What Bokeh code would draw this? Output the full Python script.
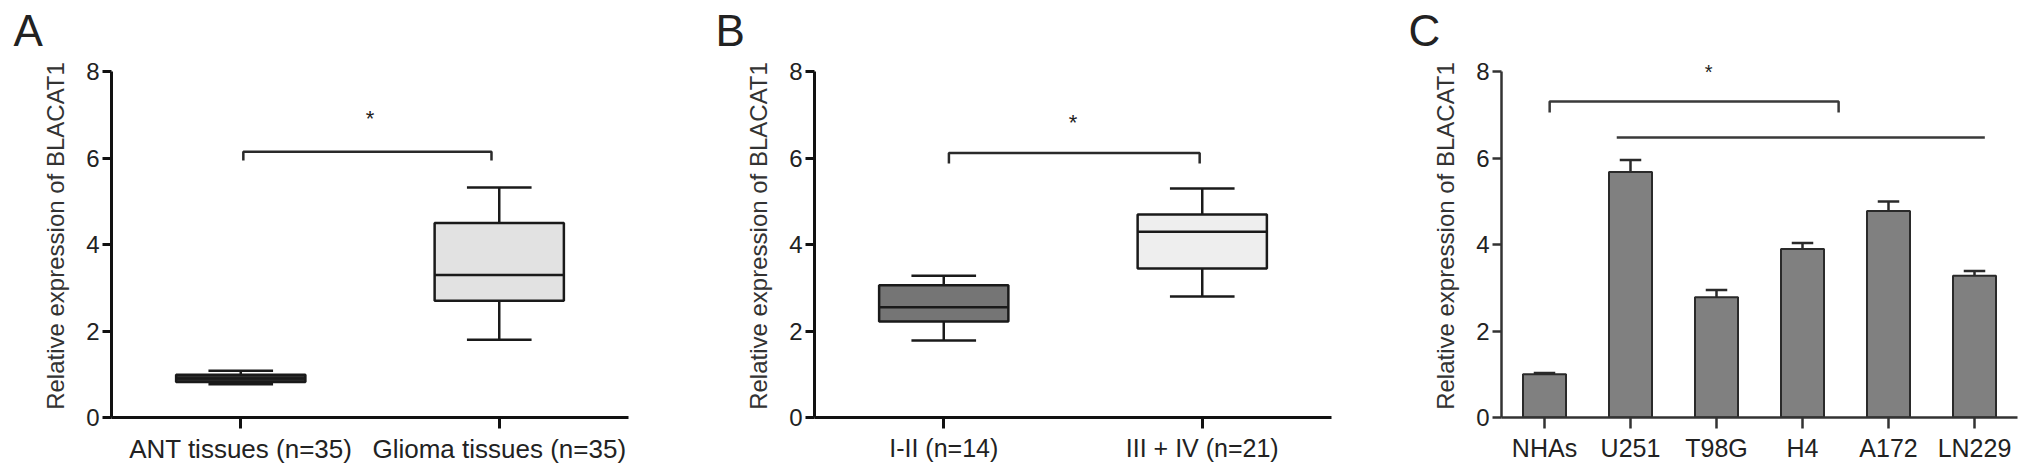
from bokeh.plotting import figure
from bokeh.layouts import row
from bokeh.models import Range1d, FixedTicker
from bokeh.core.properties import value
from bokeh.embed import file_html
from bokeh.resources import INLINE

FONT = "Liberation Sans"
YLABEL = "Relative expression of BLACAT1"

# ---- Panel A data (box plots) ----
a_groups = ["ANT tissues (n=35)", "Glioma tissues (n=35)"]
a_min = [0.77, 1.80]
a_q1 = [0.82, 2.70]
a_med = [0.90, 3.30]
a_q3 = [0.99, 4.50]
a_max = [1.08, 5.32]

# ---- Panel B data (box plots) ----
b_groups = ["I-II (n=14)", "III + IV (n=21)"]
b_min = [1.78, 2.80]
b_q1 = [2.22, 3.45]
b_med = [2.55, 4.30]
b_q3 = [3.06, 4.70]
b_max = [3.28, 5.30]

# ---- Panel C data (bars with SEM) ----
c_cells = ["NHAs", "U251", "T98G", "H4", "A172", "LN229"]
c_vals = [1.00, 5.68, 2.78, 3.90, 4.78, 3.28]
c_err = [0.03, 0.28, 0.17, 0.14, 0.22, 0.11]

# ---- significance annotations (data coords) ----
a_bracket = dict(x0=0.51, x1=1.47, y=6.15, drop=5.95, star_x=1.0, star_y=7.06)
b_bracket = dict(x0=0.52, x1=1.49, y=6.12, drop=5.88, star_x=1.0, star_y=6.96)
c_bracket = dict(x0=0.56, x1=3.92, y=7.31, drop=7.06)
c_line = dict(x0=1.34, x1=5.62, y=6.48)
c_star = dict(x=2.41, y=8.13)

H = 474
TOP = 54
BOTTOM = 57
YMAX = 8.4


def base_fig(width, left, right, n, labels, axis_color, axis_w, xfont, letter, letter_off):
    p = figure(width=width, height=H, x_range=Range1d(0, n), y_range=Range1d(0, YMAX),
               output_backend="svg", toolbar_location=None,
               min_border_left=left, min_border_right=right,
               min_border_top=TOP, min_border_bottom=BOTTOM)
    p.xgrid.visible = False
    p.ygrid.visible = False
    p.outline_line_color = None
    p.background_fill_color = "white"
    p.border_fill_color = "white"
    p.title.text = letter
    p.title.text_font = FONT
    p.title.text_font_size = "44px"
    p.title.text_font_style = "normal"
    p.title.text_color = "#222222"
    p.title.align = "left"
    p.title.offset = letter_off
    p.title.standoff = 0
    pos = [i + 0.5 for i in range(n)]
    xa = p.xaxis[0]
    xa.ticker = FixedTicker(ticks=pos)
    xa.major_label_overrides = {pp: lab for pp, lab in zip(pos, labels)}
    xa.minor_tick_line_color = None
    xa.major_tick_in = 0
    xa.major_tick_out = 11
    xa.major_tick_line_width = axis_w
    xa.major_tick_line_color = axis_color
    xa.axis_line_width = axis_w
    xa.axis_line_color = axis_color
    xa.major_label_text_font = FONT
    xa.major_label_text_font_size = xfont
    xa.major_label_text_color = "#222222"
    xa.major_label_standoff = 5
    ya = p.yaxis[0]
    ya.ticker = FixedTicker(ticks=[0, 2, 4, 6, 8])
    ya.bounds = (0, 8)
    ya.minor_tick_line_color = None
    ya.major_tick_in = 0
    ya.major_tick_out = 9
    ya.major_tick_line_width = axis_w
    ya.major_tick_line_color = axis_color
    ya.axis_line_width = axis_w
    ya.axis_line_color = axis_color
    ya.major_label_text_font = FONT
    ya.major_label_text_font_size = "24px"
    ya.major_label_text_color = "#222222"
    ya.major_label_standoff = 3
    ya.axis_label = YLABEL
    ya.axis_label_text_font = FONT
    ya.axis_label_text_font_size = "24px"
    ya.axis_label_text_font_style = "normal"
    ya.axis_label_text_color = "#333333"
    ya.axis_label_standoff = 14
    return p, pos


def boxes(p, pos, mn, q1, med, q3, mx, fills):
    lc = "#1a1a1a"
    p.segment(x0=pos, x1=pos, y0=q3, y1=mx, line_color=lc, line_width=2.5)
    p.segment(x0=pos, x1=pos, y0=mn, y1=q1, line_color=lc, line_width=2.5)
    p.segment(x0=[x - 0.125 for x in pos], x1=[x + 0.125 for x in pos], y0=mx, y1=mx,
              line_color=lc, line_width=2.5)
    p.segment(x0=[x - 0.125 for x in pos], x1=[x + 0.125 for x in pos], y0=mn, y1=mn,
              line_color=lc, line_width=2.5)
    p.vbar(x=pos, width=0.5, bottom=q1, top=q3, fill_color=fills, line_color=lc, line_width=2.5)
    p.segment(x0=[x - 0.25 for x in pos], x1=[x + 0.25 for x in pos], y0=med, y1=med,
              line_color=lc, line_width=2.5)


def bracket(p, b, color, lw):
    p.line(x=[b["x0"], b["x0"], b["x1"], b["x1"]], y=[b["drop"], b["y"], b["y"], b["drop"]],
           line_color=color, line_width=lw)


def star(p, x, y, size):
    p.text(x=[x], y=[y], text=["*"], text_font=value(FONT), text_font_size=size,
           text_align="center", text_baseline="middle", y_offset=6, text_color="#222222")


# Panel A
pA, posA = base_fig(708, 111, 80, 2, a_groups, "#111111", 3, "26px", "A", -98)
boxes(pA, posA, a_min, a_q1, a_med, a_q3, a_max, ["#2e2e2e", "#e2e2e2"])
bracket(pA, a_bracket, "#2a2a2a", 2.5)
star(pA, a_bracket["star_x"], a_bracket["star_y"], "22px")

# Panel B
pB, posB = base_fig(680, 106, 57, 2, b_groups, "#111111", 3, "25px", "B", -99)
boxes(pB, posB, b_min, b_q1, b_med, b_q3, b_max, ["#757575", "#eeeeee"])
bracket(pB, b_bracket, "#2a2a2a", 2.5)
star(pB, b_bracket["star_x"], b_bracket["star_y"], "22px")

# Panel C
pC, posC = base_fig(643, 113, 14, 6, c_cells, "#333333", 2.5, "25px", "C", -93)
lc = "#2a2a2a"
tops = [v + e for v, e in zip(c_vals, c_err)]
pC.segment(x0=posC, x1=posC, y0=c_vals, y1=tops, line_color=lc, line_width=2.5)
pC.segment(x0=[x - 0.125 for x in posC], x1=[x + 0.125 for x in posC], y0=tops, y1=tops,
           line_color=lc, line_width=2.5)
pC.vbar(x=posC, width=0.5, bottom=0, top=c_vals, fill_color="#808080", line_color=lc, line_width=2)
bracket(pC, c_bracket, "#3a3a3a", 2.5)
pC.line(x=[c_line["x0"], c_line["x1"]], y=[c_line["y"], c_line["y"]], line_color="#3a3a3a", line_width=2.5)
star(pC, c_star["x"], c_star["y"], "20px")

layout = row(pA, pB, pC)
open("out.html", "w").write(file_html(layout, INLINE))
